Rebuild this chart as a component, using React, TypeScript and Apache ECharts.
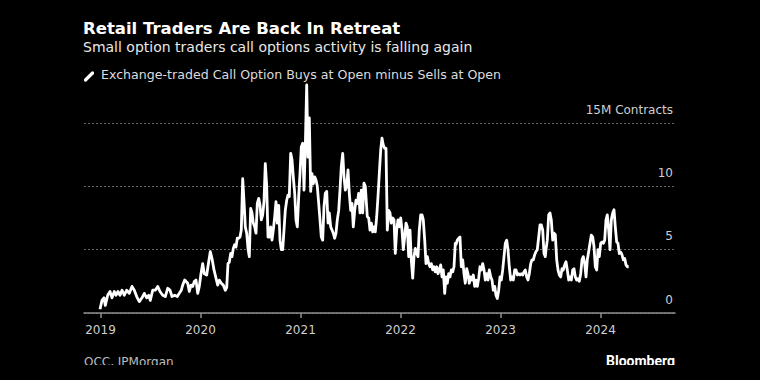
import React, { useEffect, useRef } from "react";
import * as echarts from "echarts";

const titleText = "Retail Traders Are Back In Retreat";
const subtitleText = "Small option traders call options activity is falling again";
const legendText = "Exchange-traded Call Option Buys at Open minus Sells at Open";
const sourceText = "OCC, JPMorgan";
const brandText = "Bloomberg";

const yearTicks = [2019, 2020, 2021, 2022, 2023, 2024];
const yTicks = [0, 5, 10, 15];

// [decimal year, million contracts]
const d2019: [number, number][] = [
  [2018.995, 0.3], [2019.015, 1.0], [2019.035, 1.2], [2019.048, 0.6], [2019.072, 1.4], [2019.095, 1.7],
  [2019.115, 1.2], [2019.138, 1.7], [2019.155, 1.4], [2019.175, 1.7], [2019.195, 1.4], [2019.215, 1.8],
  [2019.238, 1.4], [2019.262, 1.8], [2019.288, 1.55], [2019.315, 2.1], [2019.338, 1.8], [2019.362, 1.3],
  [2019.388, 0.9], [2019.415, 1.2], [2019.438, 1.55], [2019.462, 1.2], [2019.482, 1.4], [2019.498, 1.0],
  [2019.522, 1.8], [2019.548, 1.8], [2019.572, 2.1], [2019.595, 1.7], [2019.622, 1.4], [2019.648, 1.3],
  [2019.672, 1.95], [2019.695, 1.8], [2019.715, 1.3], [2019.742, 1.4], [2019.768, 1.3], [2019.788, 1.55],
  [2019.808, 1.8], [2019.822, 2.2], [2019.842, 2.6], [2019.855, 2.5], [2019.872, 2.35], [2019.888, 1.7],
  [2019.905, 2.2], [2019.922, 2.1], [2019.938, 2.5], [2019.955, 2.6], [2019.972, 1.55], [2019.988, 2.1],
];
const d2020: [number, number][] = [
  [2020.005, 3.1], [2020.022, 3.9], [2020.038, 3.1], [2020.062, 3.0], [2020.082, 4.05], [2020.098, 4.85],
  [2020.115, 4.3], [2020.135, 3.4], [2020.155, 2.75], [2020.172, 2.2], [2020.188, 2.6], [2020.208, 2.35],
  [2020.228, 2.2], [2020.248, 1.8], [2020.262, 2.0], [2020.275, 3.9], [2020.288, 4.0], [2020.302, 4.7],
  [2020.315, 4.45], [2020.328, 5.1], [2020.342, 5.4], [2020.355, 5.2], [2020.368, 5.9], [2020.382, 5.9],
  [2020.395, 6.0], [2020.408, 6.55], [2020.422, 10.6], [2020.435, 8.8], [2020.448, 6.8], [2020.462, 6.3],
  [2020.475, 5.1], [2020.488, 4.45], [2020.502, 8.25], [2020.515, 7.9], [2020.528, 7.1], [2020.542, 6.8],
  [2020.555, 6.3], [2020.568, 8.65], [2020.582, 9.05], [2020.595, 8.5], [2020.608, 7.35], [2020.622, 7.75],
  [2020.635, 8.8], [2020.648, 11.8], [2020.662, 10.0], [2020.675, 6.0], [2020.688, 6.0], [2020.702, 6.8],
  [2020.715, 5.75], [2020.728, 6.55], [2020.742, 7.6], [2020.755, 8.8], [2020.768, 7.1], [2020.782, 8.5],
  [2020.795, 5.75], [2020.808, 5.0], [2020.822, 5.0], [2020.835, 6.55], [2020.848, 8.1], [2020.862, 8.9],
  [2020.875, 9.3], [2020.888, 9.2], [2020.902, 12.6], [2020.915, 12.1], [2020.928, 10.75], [2020.942, 9.45],
  [2020.955, 7.35], [2020.968, 6.8], [2020.982, 9.2], [2020.995, 11.0],
];
const d2021: [number, number][] = [
  [2021.008, 13.1], [2021.022, 13.4], [2021.035, 9.7], [2021.048, 13.1], [2021.062, 18.0], [2021.075, 12.3],
  [2021.088, 15.4], [2021.102, 9.6], [2021.115, 11.0], [2021.128, 10.2], [2021.142, 10.75], [2021.155, 10.5],
  [2021.168, 10.0], [2021.182, 8.65], [2021.195, 7.35], [2021.208, 6.0], [2021.222, 5.75], [2021.235, 8.4],
  [2021.248, 9.45], [2021.262, 9.6], [2021.275, 7.1], [2021.288, 7.9], [2021.302, 6.8], [2021.315, 6.55],
  [2021.328, 6.3], [2021.342, 5.9], [2021.355, 6.3], [2021.368, 7.35], [2021.382, 8.1], [2021.395, 9.7],
  [2021.408, 11.55], [2021.422, 12.6], [2021.435, 10.75], [2021.448, 9.7], [2021.462, 10.0], [2021.475, 11.3],
  [2021.488, 9.45], [2021.502, 8.1], [2021.515, 8.65], [2021.528, 6.8], [2021.542, 8.1], [2021.555, 8.9],
  [2021.568, 8.65], [2021.582, 9.45], [2021.595, 7.9], [2021.608, 9.7], [2021.622, 7.9], [2021.635, 10.25],
  [2021.648, 10.0], [2021.668, 7.6], [2021.682, 7.5], [2021.695, 6.55], [2021.708, 7.1], [2021.722, 6.4],
  [2021.735, 6.8], [2021.748, 6.4], [2021.762, 7.6], [2021.775, 9.2], [2021.788, 11.0], [2021.802, 12.85],
  [2021.815, 13.8], [2021.828, 13.25], [2021.842, 13.0], [2021.855, 13.0], [2021.868, 6.55], [2021.882, 8.1],
  [2021.895, 7.9], [2021.908, 7.1], [2021.922, 7.5], [2021.935, 7.35], [2021.948, 4.7], [2021.962, 6.55],
  [2021.975, 7.35], [2021.988, 6.8],
];
const d2022: [number, number][] = [
  [2022.002, 7.5], [2022.015, 6.55], [2022.028, 5.0], [2022.042, 6.0], [2022.055, 7.1], [2022.068, 6.8],
  [2022.082, 4.45], [2022.095, 6.55], [2022.108, 4.2], [2022.122, 2.75], [2022.135, 4.45], [2022.148, 5.1],
  [2022.162, 4.7], [2022.175, 4.45], [2022.188, 6.55], [2022.202, 7.75], [2022.215, 7.75], [2022.228, 7.35],
  [2022.242, 5.75], [2022.255, 3.9], [2022.268, 4.45], [2022.282, 3.9], [2022.295, 3.65], [2022.308, 3.9],
  [2022.322, 3.4], [2022.335, 3.65], [2022.348, 3.25], [2022.362, 3.65], [2022.375, 3.1], [2022.388, 3.4],
  [2022.402, 3.8], [2022.415, 2.85], [2022.428, 3.4], [2022.442, 1.55], [2022.455, 2.85], [2022.468, 2.35],
  [2022.482, 3.1], [2022.495, 2.85], [2022.508, 3.4], [2022.522, 3.25], [2022.535, 3.65], [2022.548, 5.5],
  [2022.555, 5.4], [2022.568, 5.75], [2022.582, 5.9], [2022.595, 6.0], [2022.608, 3.65], [2022.622, 4.2],
  [2022.635, 3.1], [2022.648, 2.35], [2022.662, 3.5], [2022.675, 3.1], [2022.688, 2.35], [2022.702, 2.85],
  [2022.715, 2.6], [2022.728, 3.0], [2022.742, 2.1], [2022.755, 2.6], [2022.768, 2.1], [2022.782, 2.75],
  [2022.795, 3.65], [2022.808, 3.4], [2022.822, 3.9], [2022.835, 3.4], [2022.848, 2.6], [2022.862, 3.1],
  [2022.875, 2.6], [2022.888, 3.4], [2022.902, 2.85], [2022.915, 2.6], [2022.928, 1.8], [2022.942, 2.1],
  [2022.955, 1.4], [2022.968, 1.15], [2022.982, 1.8], [2022.995, 2.85],
];
const d2023: [number, number][] = [
  [2023.008, 2.6], [2023.022, 3.4], [2023.035, 4.45], [2023.048, 5.5], [2023.062, 5.75], [2023.075, 5.0],
  [2023.088, 3.65], [2023.102, 2.6], [2023.115, 2.85], [2023.128, 2.6], [2023.142, 3.4], [2023.155, 3.4],
  [2023.168, 3.0], [2023.182, 3.1], [2023.195, 3.0], [2023.208, 3.1], [2023.222, 3.0], [2023.235, 3.25],
  [2023.248, 3.4], [2023.262, 2.85], [2023.275, 2.6], [2023.288, 3.1], [2023.302, 3.9], [2023.315, 4.2],
  [2023.328, 4.2], [2023.342, 4.6], [2023.355, 4.85], [2023.368, 5.0], [2023.382, 6.0], [2023.395, 6.95],
  [2023.408, 6.95], [2023.422, 6.55], [2023.435, 4.7], [2023.448, 4.45], [2023.455, 5.0], [2023.468, 5.75],
  [2023.482, 7.75], [2023.495, 7.9], [2023.508, 7.35], [2023.522, 5.75], [2023.535, 6.3], [2023.548, 6.2],
  [2023.562, 4.2], [2023.575, 3.4], [2023.588, 3.0], [2023.602, 2.85], [2023.615, 3.5], [2023.628, 3.4],
  [2023.642, 3.8], [2023.655, 4.05], [2023.668, 3.4], [2023.682, 2.6], [2023.695, 2.85], [2023.708, 2.6],
  [2023.722, 3.4], [2023.735, 3.5], [2023.748, 2.85], [2023.762, 2.6], [2023.775, 2.7], [2023.788, 2.5],
  [2023.802, 3.1], [2023.815, 4.2], [2023.828, 4.45], [2023.842, 3.9], [2023.855, 2.85], [2023.868, 4.2],
  [2023.882, 4.85], [2023.895, 5.5], [2023.908, 6.15], [2023.922, 6.0], [2023.935, 5.25], [2023.948, 3.65],
  [2023.962, 3.4], [2023.975, 5.0], [2023.988, 4.45],
];
const d2024: [number, number][] = [
  [2024.002, 5.5], [2024.015, 5.6], [2024.028, 5.5], [2024.042, 5.75], [2024.055, 7.35], [2024.068, 7.75],
  [2024.082, 6.55], [2024.095, 5.0], [2024.108, 7.35], [2024.122, 7.9], [2024.135, 8.15], [2024.148, 6.8],
  [2024.162, 5.6], [2024.175, 5.5], [2024.188, 4.7], [2024.202, 4.8], [2024.215, 4.6], [2024.228, 4.2],
  [2024.242, 4.3], [2024.255, 3.8], [2024.268, 3.65], [2024.282, 3.65],
];

const FONT = "'DejaVu Sans', sans-serif";

export default function App() {
  const ref = useRef<HTMLDivElement>(null);

  useEffect(() => {
    if (!ref.current) return;
    const chart = echarts.init(ref.current, null, { renderer: "svg" });
    const data = [...d2019, ...d2020, ...d2021, ...d2022, ...d2023, ...d2024];
    chart.setOption({
      animation: false,
      backgroundColor: "#000000",
      grid: { left: 84, right: 85, top: 123, bottom: 67, containLabel: false },
      xAxis: {
        type: "value",
        min: 2018.835,
        max: 2024.745,
        axisLine: { show: true, lineStyle: { color: "#8f8f8f", width: 1.5 } },
        axisTick: {
          show: true,
          customValues: yearTicks,
          length: 5,
          lineStyle: { color: "#8f8f8f", width: 1.5 },
        },
        axisLabel: {
          customValues: yearTicks,
          formatter: (v: number) => String(Math.round(v)),
          color: "#cfcfcf",
          fontSize: 12,
          fontFamily: FONT,
          margin: 11,
        },
        splitLine: { show: false },
      },
      yAxis: {
        type: "value",
        min: 0,
        max: 15,
        interval: 5,
        position: "right",
        axisLine: { show: false },
        axisTick: { show: false },
        axisLabel: {
          inside: true,
          margin: 2,
          align: "right",
          verticalAlign: "bottom",
          lineHeight: 27,
          color: "#cfcfcf",
          fontSize: 12,
          fontFamily: FONT,
          formatter: (v: number) => (v === yTicks[yTicks.length - 1] ? `${v}M Contracts` : String(v)),
        },
        splitLine: { show: true, lineStyle: { color: "#666666", width: 1, type: [2, 2] } },
      },
      series: [
        {
          type: "line",
          data,
          showSymbol: false,
          clip: false,
          lineStyle: { color: "#ffffff", width: 2.8, join: "round" },
          z: 5,
        },
      ],
      graphic: [
        {
          type: "text",
          left: 83,
          top: 20,
          style: { text: titleText, fill: "#ffffff", font: `bold 16.5px ${FONT}` },
        },
        {
          type: "text",
          left: 83,
          top: 40,
          style: { text: subtitleText, fill: "#e8e8e8", font: `14px ${FONT}` },
        },
        {
          type: "line",
          shape: { x1: 85.5, y1: 80, x2: 92.5, y2: 73 },
          style: { stroke: "#ffffff", lineWidth: 3.2, lineCap: "round" },
        },
        {
          type: "text",
          left: 101,
          top: 68,
          style: { text: legendText, fill: "#dcdcdc", font: `12.6px ${FONT}` },
        },
        {
          type: "text",
          left: 84,
          top: 356,
          style: { text: sourceText, fill: "#bdbdbd", font: `12px ${FONT}` },
        },
        {
          type: "text",
          right: 85,
          top: 354,
          style: { text: brandText, fill: "#ffffff", font: `bold 14px Roboto, ${FONT}` },
        },
        {
          type: "rect",
          left: 0,
          top: 365,
          shape: { x: 0, y: 0, width: 760, height: 15 },
          style: { fill: "#000000" },
          z: 100,
        },
      ],
    });
    return () => chart.dispose();
  }, []);

  return (
    <div
      ref={ref}
      style={{ position: "absolute", left: 0, top: 0, width: 760, height: 380, background: "#000" }}
    />
  );
}
